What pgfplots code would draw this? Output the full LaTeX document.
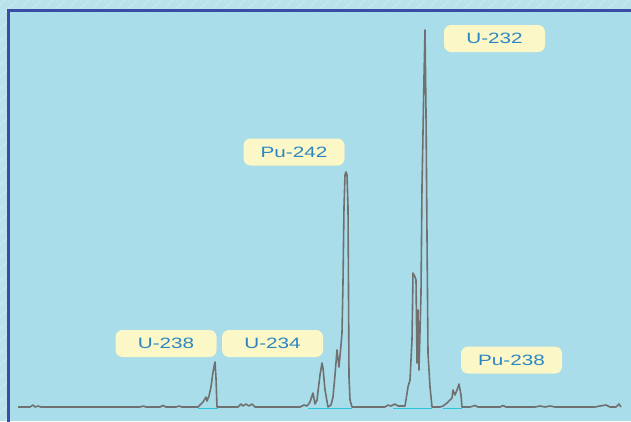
\documentclass[border=0pt]{standalone}
\usepackage{graphicx}
\usepackage{pgfplots}
\pgfplotsset{compat=1.18}
\usepackage{fontspec}
\setmainfont{Liberation Sans}
\definecolor{panel}{HTML}{A8DDE9}
\definecolor{outerbg}{HTML}{B8E2EC}
\definecolor{frame}{HTML}{3A4CA6}
\definecolor{lbl}{HTML}{FBF7C6}
\definecolor{lbltxt}{HTML}{2A86C4}
\definecolor{spec}{HTML}{707070}
\definecolor{basecy}{HTML}{2EC4DA}
\tikzset{lab/.style={fill=lbl, rounded corners=7pt, minimum width=101pt,
    minimum height=27pt, inner sep=0pt, text=lbltxt,
    font=\fontsize{15}{15}\selectfont}}
\begin{document}
\begin{tikzpicture}
\begin{scope}
\clip (0,0) rectangle (631pt,421pt);
\fill[outerbg] (0,0) rectangle (631pt,421pt);
\foreach \i in {-440,-428,...,640} {
  \draw[white,opacity=0.4,line width=0.5pt] (\i pt,0) -- (\i pt+421pt,421pt);
}
\fill[panel] (8.5pt,0) rectangle (631pt,410pt);
\draw[frame,line width=3pt,line join=miter] (8.5pt,-2pt) -- (8.5pt,410pt) -- (633pt,410pt);
\end{scope}
\begin{axis}[
  scale only axis, width=631pt, height=421pt,
  xmin=0, xmax=631, ymin=0, ymax=421, y dir=reverse,
  hide axis, clip=true,
]
\addplot[basecy, line width=1.6pt, unbounded coords=jump, forget plot] coordinates {
 (198,408.6) (218,408.6) (218,nan) (308,408.6) (352,408.6) (352,nan)
 (393,408.6) (432,408.6) (432,nan) (443,408.6) (462,408.6)};
\addplot[spec, line width=1.6pt, line join=round] coordinates {
 (18,407) (30,407) (33,405) (35,407) (38,406) (41,407) (140,407) (143,406) (146,407)
 (160,407) (163,405.5) (166,407) (176,407) (179,406) (182,407) (198,407) (203,402)
 (206,397) (207,401) (209,396) (211,387) (213,372) (215,362) (216,378) (217,407)
 (238,407) (241,404) (243,406) (246,404) (249,406) (252,404) (255,407) (300,407)
 (304,405) (307,406) (310,402) (313,393) (315,404) (317,400) (320,375) (322,363)
 (323,368) (325,390) (328,407) (331,405) (333,397) (335,375) (337,350) (339,367)
 (341,345) (342,333) (343,282) (344,207) (345,175) (346,172) (347,175) (348,207)
 (349,377) (350,400) (352,407) (385,407) (388,405) (391,406) (395,404) (398,406)
 (405,406) (408,387) (410,380) (412,340) (413,273) (415,277) (416,280) (417,363)
 (418,310) (419,370) (421,293) (422,187) (424,77) (425,30) (426,113) (427,237)
 (428,353) (430,387) (432,407) (440,407) (443,406) (447,403) (450,400) (452,398)
 (453,390) (455,395) (457,390) (459,384) (461,395) (462,407) (470,407) (475,405.5)
 (478,407) (500,407) (503,405.5) (506,407) (535,407) (540,406) (545,407) (550,406)
 (555,407) (595,407) (600,406) (606,405) (610,407) (616,407) (619,404) (621,407)};
\node[lab] at (axis cs:166,343.5) {\scalebox{1.38}[1]{U-238}};
\node[lab] at (axis cs:272.5,343.5) {\scalebox{1.38}[1]{U-234}};
\node[lab] at (axis cs:294,152) {\scalebox{1.38}[1]{Pu-242}};
\node[lab] at (axis cs:494.5,38.5) {\scalebox{1.38}[1]{U-232}};
\node[lab] at (axis cs:511.5,360) {\scalebox{1.38}[1]{Pu-238}};
\end{axis}
\end{tikzpicture}
\end{document}
